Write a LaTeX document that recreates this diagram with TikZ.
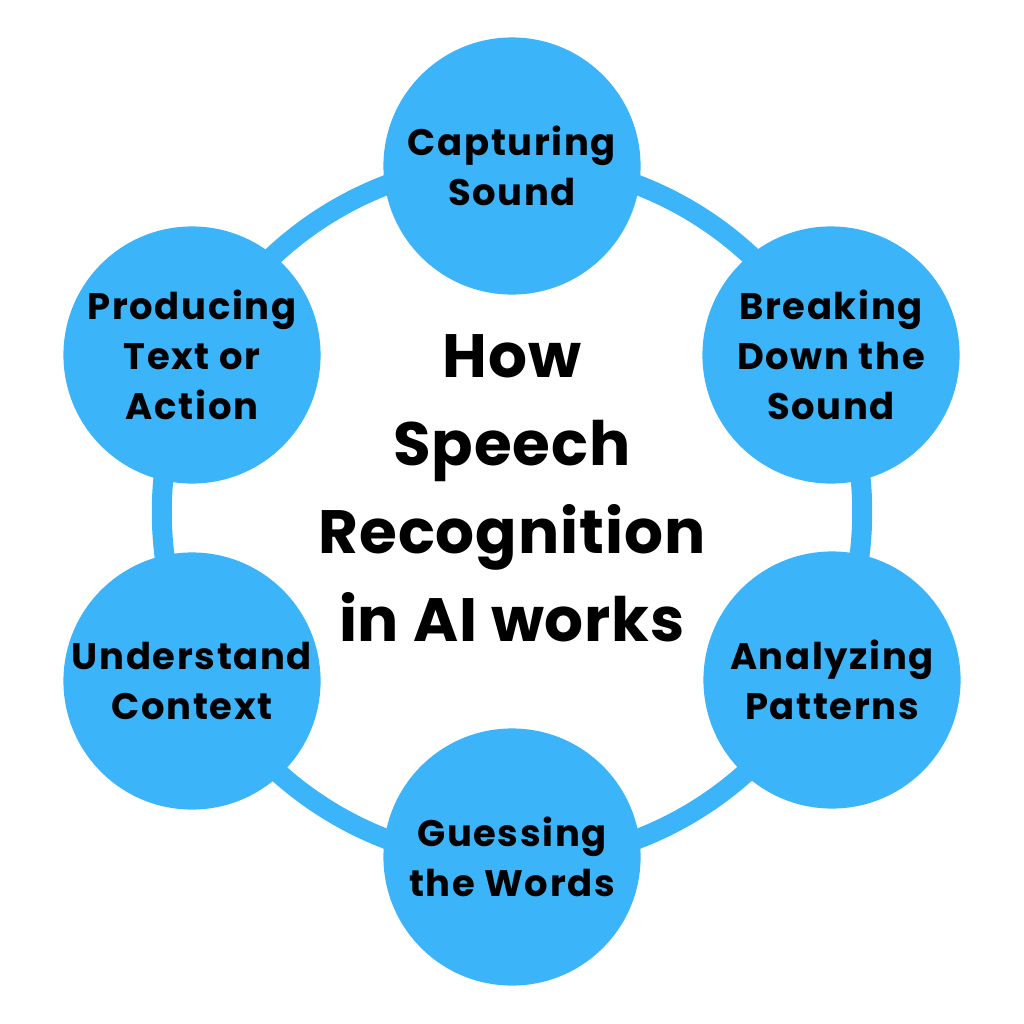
\documentclass[tikz,border=0pt]{standalone}
\usepackage{fontspec}
\setmainfont{Poppins}
\newfontfamily\stagefont{Poppins}[LetterSpace=4.5]
\newfontfamily\titlefont{Poppins}[LetterSpace=1.5]
\definecolor{stageblue}{RGB}{59,180,250}
\begin{document}
\begin{tikzpicture}[x=0.01cm,y=-0.01cm,
  stage/.style={circle,fill=stageblue,minimum size=2.57cm,inner sep=0pt,align=center,
    font=\stagefont\bfseries\fontsize{10.5}{14.2}\selectfont},
  ring/.style={draw=stageblue,line width=0.2cm}]
\useasboundingbox (0,0) rectangle (1024,1024);
% ring behind the six stages
\coordinate (hub) at (512,512);
\draw[ring] (hub) circle (3.5cm);
\foreach \name/\x/\y/\txt in {cap/512/166/{Capturing\\Sound},
  brk/831/355/{Breaking\\Down the\\Sound}, ana/832/680/{Analyzing\\Patterns},
  gue/512/857/{Guessing\\the Words}, ctx/192/681/{Understand\\Context},
  pro/192/355/{Producing\\Text or\\Action}} {
  \node[stage] (\name) at (\x,\y) {\txt};
}
\node[align=center,font=\titlefont\bfseries\fontsize{17.4}{25}\selectfont] (title) at (512,488)
  {How\\Speech\\Recognition\\in AI works};
\end{tikzpicture}
\end{document}
